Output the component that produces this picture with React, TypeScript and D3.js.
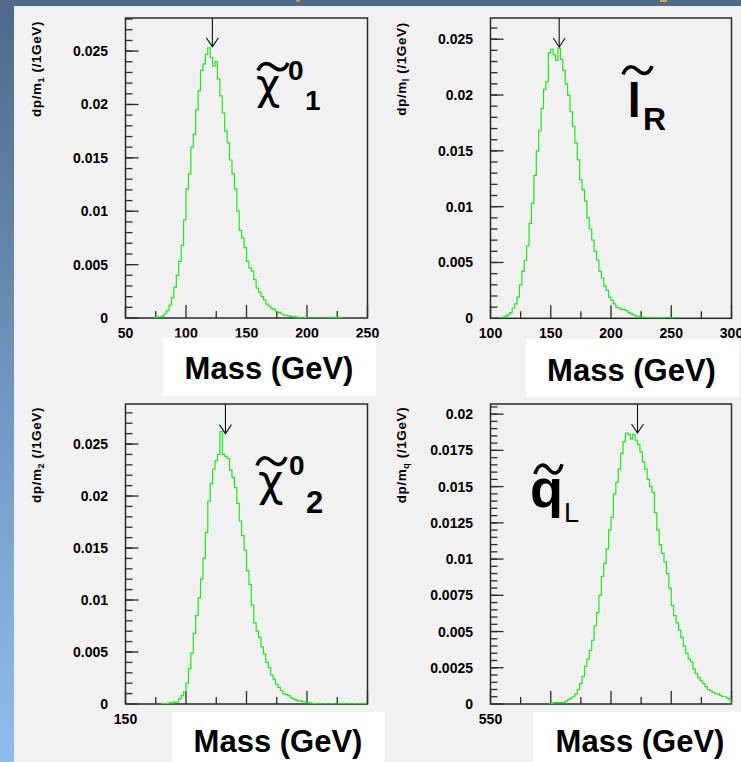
import React from "react";
import * as d3 from "d3";

// ---------- data ----------
const binWidth = 2;

// neutralino 1 mass distribution, 2 GeV bins starting at 74 GeV
const chi1Start = 74;
const chi1Values = [
  0.00005, 0.0001, 0.0001, 0.0002, 0.0004, 0.0007, 0.0012, 0.0019, 0.0029, 0.004,
  0.0053, 0.0068, 0.0092, 0.0121, 0.0135, 0.016, 0.0172, 0.0195, 0.0213, 0.0232,
  0.0238, 0.0247, 0.0253, 0.0244, 0.0236, 0.024, 0.0224, 0.0208, 0.0192, 0.0175,
  0.0164, 0.0148, 0.0135, 0.0121, 0.01, 0.0082, 0.0075, 0.0066, 0.0053, 0.0047,
  0.0044, 0.0036, 0.0028, 0.0024, 0.002, 0.0017, 0.0013, 0.0011, 0.0009, 0.0008,
  0.0006, 0.0005, 0.0004, 0.0003, 0.00025, 0.0002, 0.00015, 0.0001, 0.0001, 0.00005,
  0, 0, 0.00005, 0, 0, 0, 0, 0, 0, 0,
  0, 0, 0.00005, 0, 0.00005, 0.00005, 0.00005, 0,
];

// right slepton mass distribution, 2 GeV bins starting at 108 GeV
const slepStart = 108;
const slepValues = [
  0.00005, 0.0001, 0.0002, 0.0003, 0.0005, 0.0009, 0.0013, 0.0019, 0.003, 0.0042,
  0.0052, 0.0065, 0.0085, 0.0103, 0.0128, 0.015, 0.0168, 0.0188, 0.0205, 0.0212,
  0.0238, 0.0241, 0.0236, 0.0231, 0.0242, 0.0232, 0.0222, 0.021, 0.02, 0.0185,
  0.0172, 0.0157, 0.0142, 0.0124, 0.0115, 0.0105, 0.009, 0.008, 0.007, 0.006,
  0.0052, 0.0042, 0.0036, 0.0029, 0.0025, 0.0019, 0.0016, 0.0013, 0.001, 0.0009,
  0.0008, 0.0008, 0.0007, 0.0005, 0.0004, 0.0003, 0.0002, 0.0002, 0.0001, 0.0001,
  0.00005, 0.00005, 0, 0.00005, 0, 0, 0.00005, 0, 0.00005, 0.00005,
  0.00005, 0, 0.00005,
];

// neutralino 2 mass distribution, 2 GeV bins starting at 180 GeV
const chi2Start = 180;
const chi2Values = [
  0.00005, 0.00005, 0.00005, 0.0001, 0.0001, 0.0002, 0.0002, 0.0005, 0.0008, 0.0012,
  0.002, 0.0034, 0.0049, 0.0068, 0.0085, 0.0102, 0.012, 0.014, 0.0165, 0.0195,
  0.0212, 0.0226, 0.0234, 0.024, 0.0262, 0.024, 0.0238, 0.0236, 0.0225, 0.0218,
  0.0208, 0.0193, 0.0176, 0.0162, 0.0148, 0.0128, 0.0115, 0.0095, 0.0078, 0.007,
  0.0064, 0.0055, 0.0048, 0.004, 0.0035, 0.0028, 0.0024, 0.0019, 0.0016, 0.0013,
  0.001, 0.0009, 0.0008, 0.0006, 0.0005, 0.0004, 0.0003, 0.0003, 0.0002, 0.0002,
  0.0001, 0.0001, 0.00005, 0.00005, 0, 0.00005, 0, 0.00005, 0, 0,
  0.00005, 0, 0, 0.00005, 0, 0.00005, 0, 0.00005, 0, 0.00005,
  0, 0.00005, 0, 0.00005, 0,
];

// left squark mass distribution, 2 GeV bins starting at 600 GeV
const squarkStart = 600;
const squarkValues = [
  0.00005, 0.0001, 0.0001, 0.0001, 0.0001, 0.0001, 0.0002, 0.0003, 0.0004, 0.0005,
  0.0007, 0.001, 0.0014, 0.0019, 0.0026, 0.0031, 0.0037, 0.0044, 0.0054, 0.0063,
  0.0075, 0.0088, 0.0097, 0.0107, 0.012, 0.0129, 0.0145, 0.0153, 0.0162, 0.0173,
  0.0181, 0.0187, 0.0186, 0.0183, 0.0186, 0.0182, 0.0179, 0.0174, 0.0167, 0.0162,
  0.0155, 0.015, 0.0146, 0.0132, 0.012, 0.011, 0.0104, 0.0098, 0.009, 0.008,
  0.0068, 0.0061, 0.0056, 0.0051, 0.0046, 0.004, 0.0035, 0.0031, 0.0029, 0.0024,
  0.0021, 0.0018, 0.0016, 0.0014, 0.0012, 0.001, 0.0009, 0.0008, 0.0007, 0.0007,
  0.0006, 0.0005, 0.0005, 0.0004, 0.0003,
];

const xTicks1 = [50, 100, 150, 200, 250];
const xTicks2 = [100, 150, 200, 250, 300];
const xTicks3 = [150, 200, 250, 300, 350];
const xTicks4 = [550, 600, 650, 700, 750];

const yTicksA = [0, 0.005, 0.01, 0.015, 0.02, 0.025];
const yLabelsA = ["0", "0.005", "0.01", "0.015", "0.02", "0.025"];
const yTicks4 = [0, 0.0025, 0.005, 0.0075, 0.01, 0.0125, 0.015, 0.0175, 0.02];
const yLabels4 = ["0", "0.0025", "0.005", "0.0075", "0.01", "0.0125", "0.015", "0.0175", "0.02"];

const peakMasses = [121.8, 157, 232.6, 672];
const peakValues = [0.0254, 0.0243, 0.026, 0.0187];
const ySubs = ["1", "l", "2", "q"];

// ---------- panel layout ----------
const panels = [
  {
    start: chi1Start, values: chi1Values, xDomain: [50, 250], yMax: 0.0281,
    xTicks: xTicks1, minorX: 25, yTicks: yTicksA, yLabels: yLabelsA, minorY: 0.001,
    left: 125.5, right: 367.5, top: 18, bottom: 318,
    box: [163, 337.5, 213, 58], massX: 269, massY: 379,
  },
  {
    start: slepStart, values: slepValues, xDomain: [100, 300], yMax: 0.0269,
    xTicks: xTicks2, minorX: 25, yTicks: yTicksA, yLabels: yLabelsA, minorY: 0.001,
    left: 490.5, right: 731.5, top: 18, bottom: 318.3,
    box: [526, 339, 213, 58], massX: 631.5, massY: 381,
  },
  {
    start: chi2Start, values: chi2Values, xDomain: [150, 350], yMax: 0.02885,
    xTicks: xTicks3, minorX: 25, yTicks: yTicksA, yLabels: yLabelsA, minorY: 0.001,
    left: 125.5, right: 367.5, top: 404, bottom: 704,
    box: [172, 712, 213, 50], massX: 278, massY: 752,
  },
  {
    start: squarkStart, values: squarkValues, xDomain: [550, 750], yMax: 0.0207,
    xTicks: xTicks4, minorX: 25, yTicks: yTicks4, yLabels: yLabels4, minorY: 0.0005,
    left: 490.5, right: 731.5, top: 404, bottom: 704,
    box: [533, 712, 208, 50], massX: 640, massY: 752,
  },
];

const FONT = "'Liberation Sans', Arial, Helvetica, sans-serif";
const GREEK = "'DejaVu Sans', 'Liberation Sans', sans-serif";
const GREEN = "#1fe81f";
const AXIS = "#2a2a2a";

function Tilde({ x, y, w, h }: { x: number; y: number; w: number; h: number }) {
  const d = `M${x},${y + h * 0.85} C${x + w * 0.12},${y + h * 0.05} ${x + w * 0.32},${y} ${x + w * 0.5},${y + h * 0.45} S${x + w * 0.88},${y + h * 0.95} ${x + w},${y + h * 0.1}`;
  return <path d={d} fill="none" stroke="#000" strokeWidth={3.6} strokeLinecap="butt" />;
}

function Panel({ p, i }: { p: any; i: number }) {
  const x = d3.scaleLinear().domain(p.xDomain).range([p.left, p.right]);
  const y = d3.scaleLinear().domain([0, p.yMax]).range([p.bottom, p.top]);
  const n = p.values.length;
  const end = p.start + n * binWidth;
  const pts: [number, number][] = [[p.start, 0]];
  p.values.forEach((v: number, k: number) => pts.push([p.start + k * binWidth, v]));
  pts.push([end, p.values[n - 1]]);
  pts.push([end, 0]);
  const line = d3
    .line<[number, number]>()
    .x((d) => x(d[0]))
    .y((d) => y(d[1]))
    .curve(d3.curveStepAfter);

  const minorX: number[] = [];
  for (let v = p.xDomain[0] + p.minorX; v < p.xDomain[1]; v += p.minorX * 2) minorX.push(v);
  const minorY: number[] = [];
  const nMinor = Math.floor(p.yMax / p.minorY + 1e-6);
  for (let k = 1; k <= nMinor; k++) minorY.push(k * p.minorY);

  const px = x(peakMasses[i]);
  const tip = y(peakValues[i]);
  const clipId = `clip${i}`;
  const labelBaseline = p.bottom + 20;
  // tick labels lying completely under the white "Mass" box are not drawn
  const visible = (v: number) => {
    const cx = x(v);
    const inY = labelBaseline - 10 >= p.box[1];
    const inX = cx - 11 > p.box[0] - 2 && cx + 11 < p.box[0] + p.box[2] + 2;
    return !(inX && inY);
  };

  return (
    <g>
      <defs>
        <clipPath id={clipId}>
          <rect x={p.left} y={p.top} width={p.right - p.left} height={p.bottom - p.top} />
        </clipPath>
      </defs>
      {minorY.map((v, k) => (
        <line key={"my" + k} x1={p.left} x2={p.left + 7} y1={y(v)} y2={y(v)} stroke={AXIS} strokeWidth={1.3} />
      ))}
      {p.yTicks.map((v: number, k: number) => (
        <g key={"yt" + k}>
          <line x1={p.left} x2={p.left + 13} y1={y(v)} y2={y(v)} stroke={AXIS} strokeWidth={1.3} />
          <text
            x={p.left - 17.5}
            y={y(v) + 5}
            textAnchor="end"
            fontFamily={FONT}
            fontWeight="bold"
            fontSize={14}
            fill="#000"
          >
            {p.yLabels[k]}
          </text>
        </g>
      ))}
      {minorX.map((v, k) => (
        <line key={"mx" + k} x1={x(v)} x2={x(v)} y1={p.bottom} y2={p.bottom - 7} stroke={AXIS} strokeWidth={1.3} />
      ))}
      {p.xTicks.map((v: number, k: number) => (
        <g key={"xt" + k}>
          <line x1={x(v)} x2={x(v)} y1={p.bottom} y2={p.bottom - 13} stroke={AXIS} strokeWidth={1.3} />
          {visible(v) && (
            <text
              x={x(v)}
              y={labelBaseline}
              textAnchor="middle"
              fontFamily={FONT}
              fontWeight="bold"
              fontSize={14}
              fill="#000"
            >
              {v}
            </text>
          )}
        </g>
      ))}
      <rect
        x={p.left}
        y={p.top}
        width={p.right - p.left}
        height={p.bottom - p.top}
        fill="none"
        stroke={AXIS}
        strokeWidth={1.5}
      />
      <path d={line(pts) || ""} fill="none" stroke={GREEN} strokeWidth={1.2} clipPath={`url(#${clipId})`} />
      <line x1={px} x2={px} y1={p.top} y2={tip} stroke="#111" strokeWidth={1.1} />
      <polyline points={`${px - 6},${tip - 9} ${px},${tip} ${px + 6},${tip - 9}`} fill="none" stroke="#111" strokeWidth={1.1} />
      <text
        transform={`translate(${p.left - 85},${p.top + 51}) rotate(-90)`}
        textAnchor="middle"
        fontFamily={FONT}
        fontWeight="bold"
        fontSize={13.5}
        letterSpacing={0.6}
        fill="#000"
      >
        dp/m
        <tspan dy={3} fontSize={9}>
          {ySubs[i]}
        </tspan>
        <tspan dy={-3}> (/1GeV)</tspan>
      </text>
      <rect x={p.box[0]} y={p.box[1]} width={p.box[2]} height={p.box[3]} fill="#ffffff" />
      <text x={p.massX} y={p.massY} textAnchor="middle" fontFamily={FONT} fontWeight="bold" fontSize={31} fill="#000">
        Mass (GeV)
      </text>
    </g>
  );
}

export default function App() {
  return (
    <svg
      width={741}
      height={762}
      viewBox="0 0 741 762"
      style={{ position: "absolute", left: 0, top: 0, display: "block" }}
    >
      <defs>
        <linearGradient id="sideGrad" x1="0" y1="0" x2="0" y2="1">
          <stop offset="0" stopColor="#4e6989" />
          <stop offset="0.5" stopColor="#6f95bf" />
          <stop offset="1" stopColor="#8ebeec" />
        </linearGradient>
      </defs>
      <rect x={0} y={0} width={741} height={762} fill="#f1f1f1" />
      <rect x={0} y={0} width={741} height={6} fill="#4f6a89" />
      <rect x={0} y={0} width={14} height={762} fill="url(#sideGrad)" />
      <rect x={296} y={0} width={4} height={1.5} fill="#e49a3a" />
      <rect x={660} y={0} width={7} height={2} fill="#e49a3a" />

      {panels.map((p, i) => (
        <Panel key={i} p={p} i={i} />
      ))}

      <g fontFamily={FONT} fill="#000">
        {/* chi0_1 */}
        <Tilde x={258} y={62} w={30} h={10} />
        <text x={256} y={99} fontSize={42} fontFamily={GREEK}>χ</text>
        <text x={288} y={80} fontSize={28} fontWeight="bold">0</text>
        <text x={305} y={110} fontSize={28} fontWeight="bold">1</text>

        {/* l_R */}
        <Tilde x={623} y={65} w={29} h={11} />
        <text x={627.5} y={117} fontSize={48} fontWeight="bold">l</text>
        <text x={643} y={130} fontSize={32} fontWeight="bold">R</text>

        {/* chi0_2 */}
        <Tilde x={257} y={456} w={29} h={11} />
        <text x={258} y={496} fontSize={44} fontFamily={GREEK}>χ</text>
        <text x={289} y={475} fontSize={28} fontWeight="bold">0</text>
        <text x={306} y={513} fontSize={31} fontWeight="bold">2</text>

        {/* q_L */}
        <Tilde x={535} y={463} w={27} h={13} />
        <text x={530} y={507} fontSize={54} fontWeight="bold">q</text>
        <text x={564} y={522} fontSize={27}>L</text>
      </g>
    </svg>
  );
}
